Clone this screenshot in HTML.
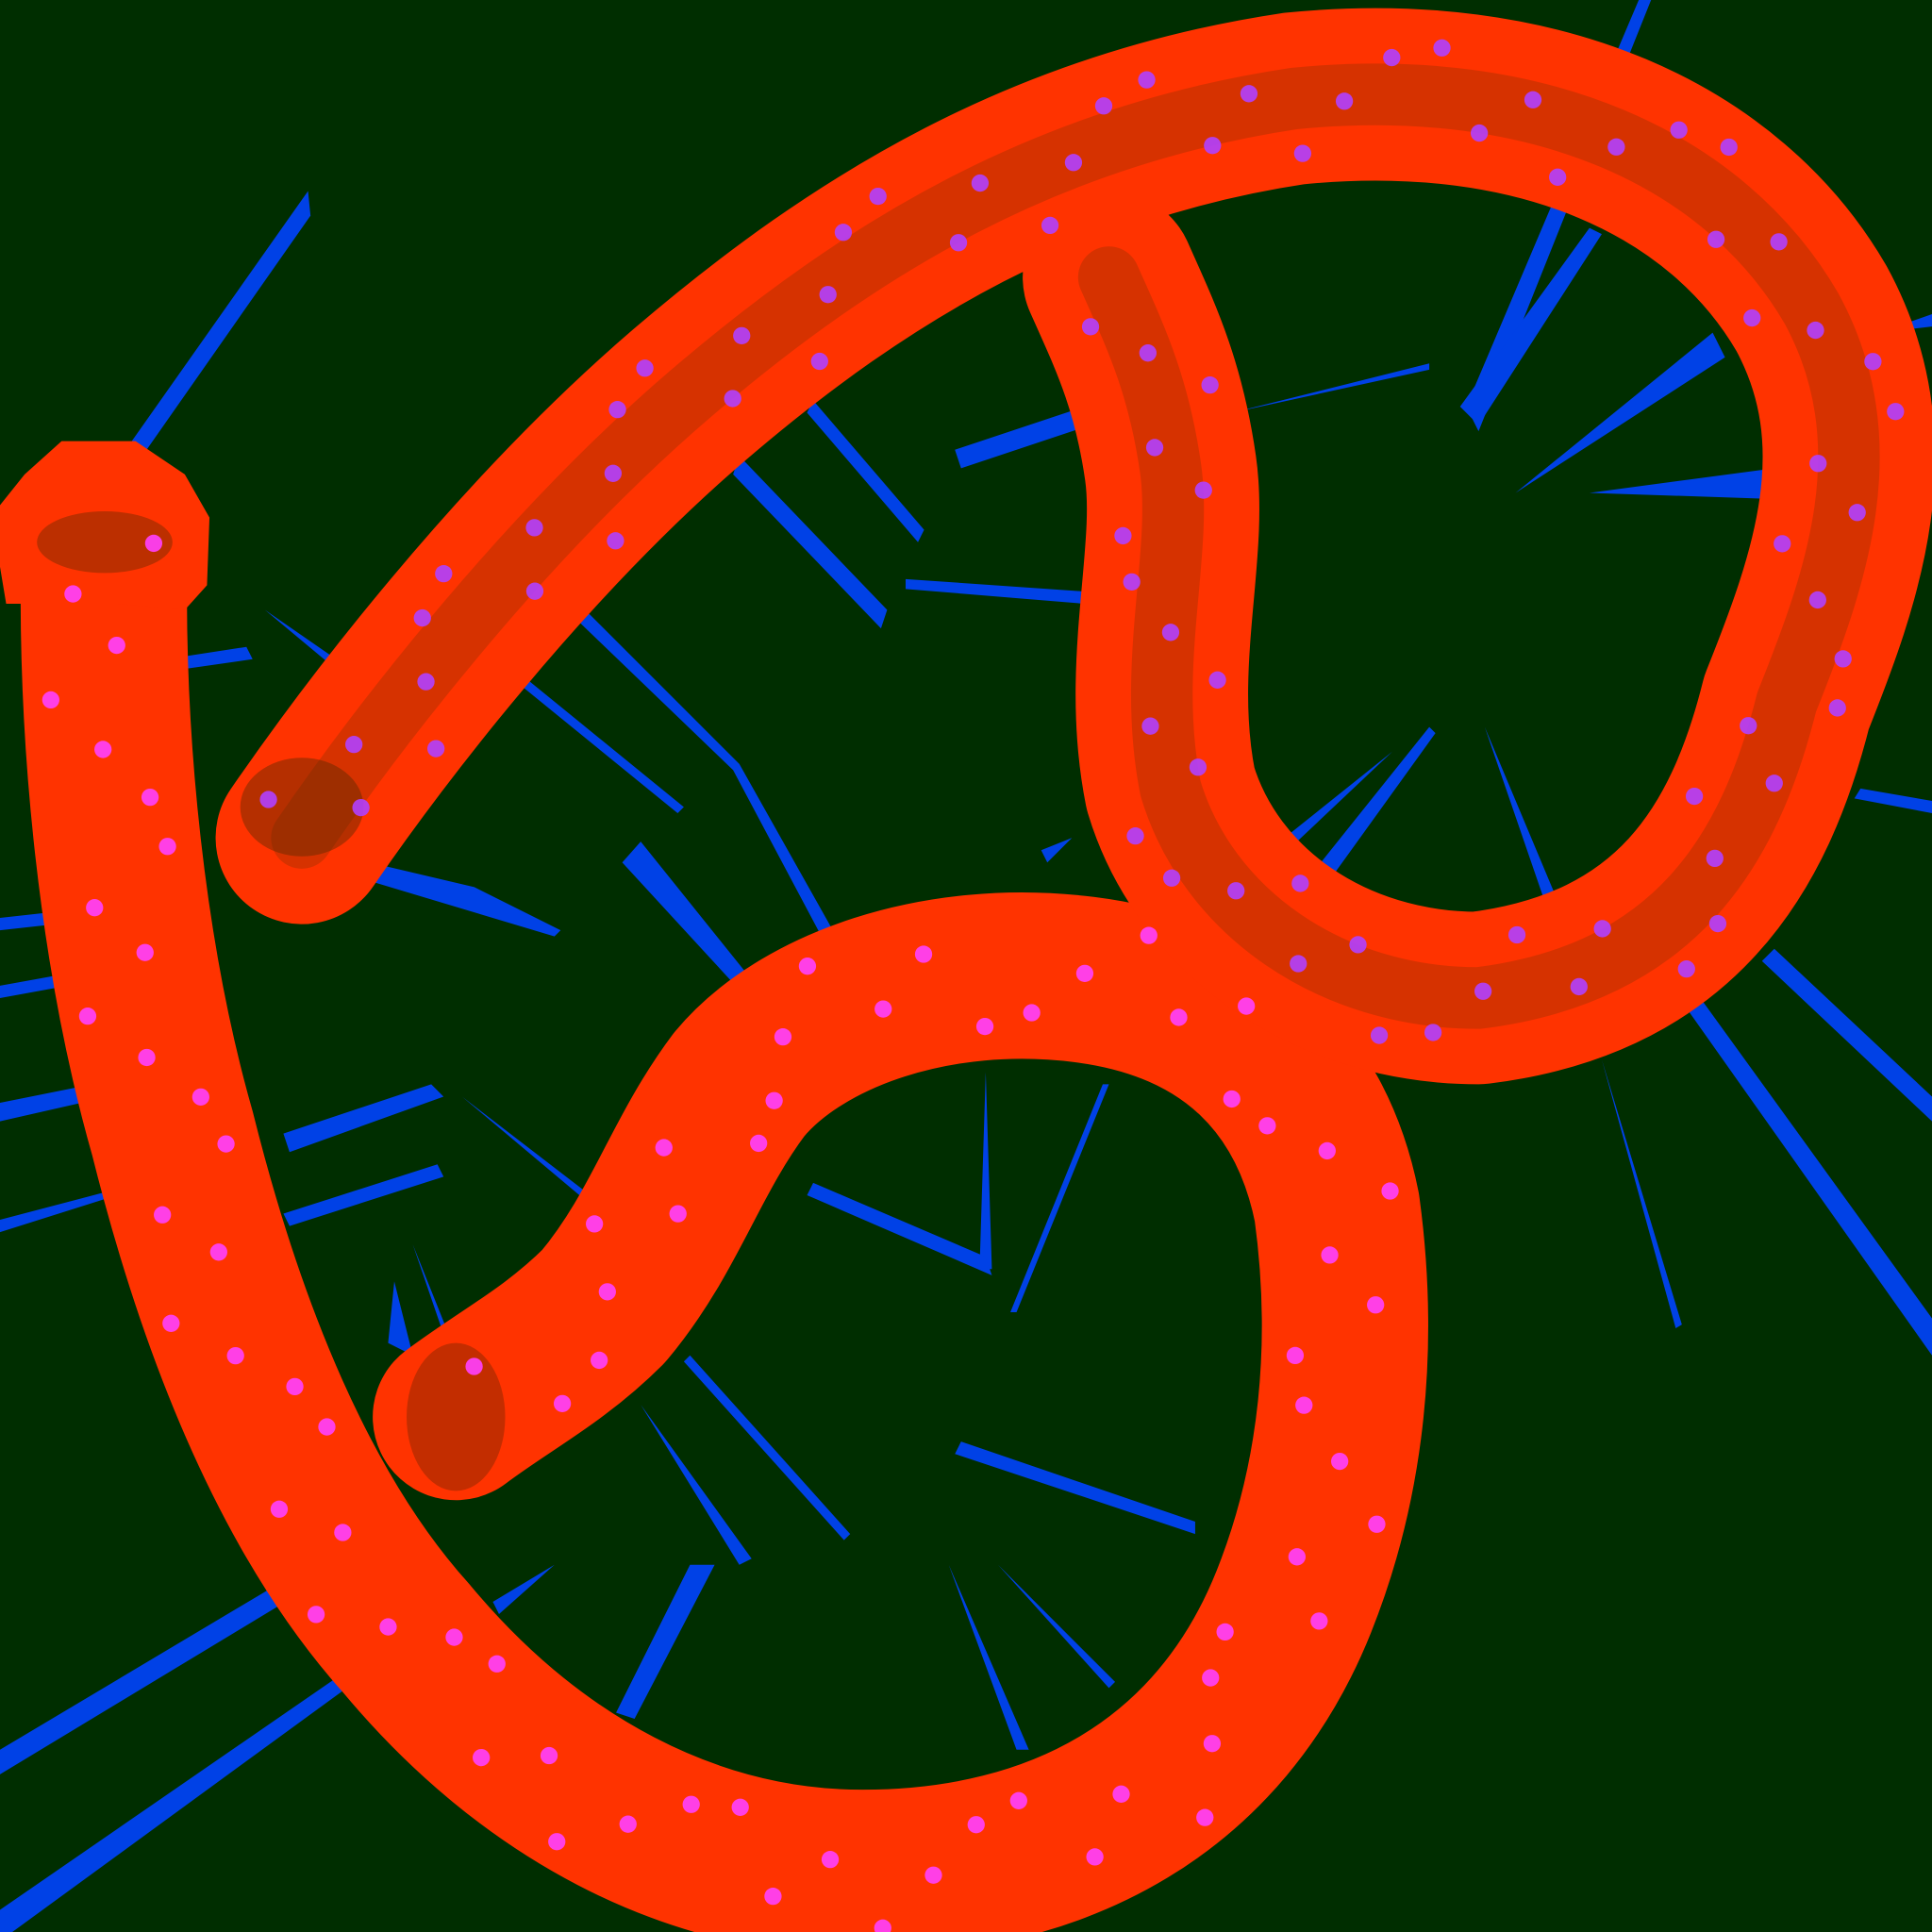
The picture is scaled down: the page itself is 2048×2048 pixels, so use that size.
<!DOCTYPE html>
<html><head><meta charset="utf-8"><style>
html,body{margin:0;padding:0;background:#002e00;}
svg{display:block}
</style></head><body>
<svg id="art" width="2048" height="2048" viewBox="0 0 1568 1568" xmlns="http://www.w3.org/2000/svg">
<rect width="1568" height="1568" fill="#002e00"/>
<g id="spikes" fill="#0044ff" opacity="0.9">
<polygon points="250,155 252,175 105,385 95,375"/>
<polygon points="1340,0 1330,0 1190,330 1200,350"/>
<polygon points="1300,190 1290,185 1185,330 1200,345"/>
<polygon points="1390,270 1230,400 1400,290"/>
<polygon points="1440,380 1290,400 1440,405"/>
<polygon points="1160,295 1000,335 1160,300"/>
<polygon points="880,330 775,365 780,380 885,345"/>
<polygon points="880,480 735,470 735,478 880,490"/>
<polygon points="600,370 720,495 715,510 595,385"/>
<polygon points="660,325 750,430 745,440 655,335"/>
<polygon points="470,490 600,620 690,780 680,785 595,625 465,500"/>
<polygon points="420,545 555,655 550,660 415,550"/>
<polygon points="520,683 630,820 620,825 505,700"/>
<polygon points="1160,590 1060,715 1075,720 1165,595"/>
<polygon points="1130,610 1030,690 1040,695"/>
<polygon points="1205,590 1270,745 1260,750"/>
<polygon points="1440,770 1568,890 1568,910 1430,780"/>
<polygon points="1380,810 1568,1070 1568,1100 1370,820"/>
<polygon points="1300,860 1365,1075 1360,1078"/>
<polygon points="900,880 825,1065 820,1065 895,880"/>
<polygon points="800,870 805,1030 795,1030"/>
<polygon points="660,960 800,1020 805,1035 655,970"/>
<polygon points="780,1170 970,1235 970,1245 775,1180"/>
<polygon points="770,1270 835,1420 825,1420"/>
<polygon points="810,1270 905,1365 900,1370"/>
<polygon points="560,1100 690,1245 685,1250 555,1105"/>
<polygon points="520,1140 610,1265 600,1270"/>
<polygon points="580,1270 515,1395 500,1390 560,1270"/>
<polygon points="350,880 230,920 235,935 360,890"/>
<polygon points="355,945 230,985 235,995 360,955"/>
<polygon points="375,890 505,990 500,995"/>
<polygon points="300,700 385,720 455,755 450,760 300,715"/>
<polygon points="200,525 135,535 135,545 205,535"/>
<polygon points="215,495 280,540 275,545"/>
<polygon points="75,880 0,895 0,910 75,893"/>
<polygon points="95,965 0,990 0,1000 95,970"/>
<polygon points="45,740 0,745 0,755 45,750"/>
<polygon points="55,790 0,800 0,810 55,800"/>
<polygon points="235,1280 0,1420 0,1440 240,1295"/>
<polygon points="290,1350 0,1550 0,1568 10,1568 295,1360"/>
<polygon points="450,1270 400,1300 405,1310"/>
<polygon points="320,1040 315,1090 335,1100"/>
<polygon points="335,1010 375,1110 370,1112"/>
<polygon points="870,680 845,690 850,700"/>
<polygon points="1510,640 1568,650 1568,660 1505,648"/>
<polygon points="1525,270 1568,255 1568,265"/>
</g>
<g>
<path id="tubeA" fill="none" stroke="#ff3300" stroke-width="135" stroke-linecap="round" stroke-linejoin="round"
d="M85,430 C80,600 100,780 140,920 C180,1080 240,1230 330,1330 C430,1450 560,1520 700,1520 C860,1520 990,1450 1050,1300 C1090,1200 1100,1090 1085,980 C1065,880 1000,810 880,795 C760,780 650,820 600,880 C555,940 540,1000 490,1060 C450,1100 410,1120 370,1150"/>
<ellipse cx="370" cy="1150" rx="40" ry="60" fill="#7a2600" opacity="0.45"/>
<path d="M20,385 L50,358 L110,358 L150,385 L170,420 L168,475 L150,495 L95,490 L5,490 L0,460 L0,410Z" fill="#ff3300"/>
<ellipse cx="85" cy="440" rx="55" ry="25" fill="#6a2a00" opacity="0.45"/>
</g>
<g>
<path id="tubeB" fill="none" stroke="#ff3300" stroke-width="140" stroke-linecap="round" stroke-linejoin="round"
d="M245,680 C300,600 420,440 560,320 C700,200 850,110 1050,80 C1250,60 1400,130 1470,250 C1530,360 1490,470 1450,570 C1420,690 1360,790 1200,810 C1080,810 980,740 950,640 C930,540 960,450 950,380 C940,310 920,270 900,225"/>
<path fill="none" stroke="#8a3000" stroke-width="50" stroke-linecap="round" stroke-linejoin="round" opacity="0.35"
d="M245,680 C300,600 420,440 560,320 C700,200 850,110 1050,80 C1250,60 1400,130 1470,250 C1530,360 1490,470 1450,570 C1420,690 1360,790 1200,810 C1080,810 980,740 950,640 C930,540 960,450 950,380 C940,310 920,270 900,225"/>
<ellipse cx="245" cy="655" rx="50" ry="40" fill="#5a2a00" opacity="0.45"/>
</g>
<g id="dots"></g>
</svg>
<script>
const dotSpacing = [42, 38];
const g = document.getElementById('dots');
['tubeA','tubeB'].forEach(function(id, k){
  const p = document.getElementById(id);
  const L = p.getTotalLength();
  let i = 0;
  for (let s = 10; s < L; s += dotSpacing[k]) {
    const a = p.getPointAtLength(s), b = p.getPointAtLength(Math.min(L, s + 1));
    const dx = b.x - a.x, dy = b.y - a.y, n = Math.hypot(dx, dy) || 1;
    const off = [-40, 25, -10, 45, 5, -30][i % 6];
    const c = document.createElementNS('http://www.w3.org/2000/svg', 'circle');
    
    
    c.setAttribute('cx', a.x - dy / n * off);
    c.setAttribute('cy', a.y + dx / n * off);
    c.setAttribute('r', 7);
    c.setAttribute('fill', k ? '#b040ff' : '#ff40ff');
    c.setAttribute('opacity', '0.9');
    g.appendChild(c);
    i++;
  }
});
</script>
</body></html>
